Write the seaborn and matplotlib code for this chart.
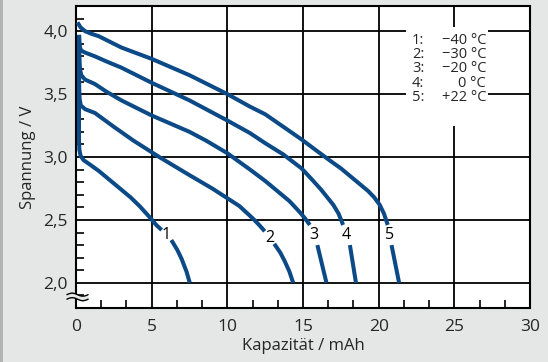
import numpy as np
import pandas as pd
import matplotlib
matplotlib.use("Agg")
import matplotlib.pyplot as plt
from matplotlib.patches import Rectangle
from matplotlib.ticker import MultipleLocator, FixedLocator
import seaborn as sns

# ---------------- data ----------------
nan = np.nan
# curve 1: -40 °C
cap_1 = [0.2, 0.2, 0.22, 0.3, 0.5, 0.92, 1.5, 2.0, 2.9, 3.6, 4.2, 4.88, 5.3, 5.66,
         nan, 6.3, 6.7, 6.98, 7.3, 7.52]
volt_1 = [3.97, 3.13, 3.06, 3.01, 2.975, 2.94, 2.89, 2.84, 2.75, 2.68, 2.61, 2.52, 2.46, 2.42,
          nan, 2.34, 2.26, 2.19, 2.09, 2.0]
# curve 2: -30 °C
cap_2 = [0.2, 0.21, 0.24, 0.32, 0.6, 1.25, 2.5, 3.8, 5.5, 7.3, 9.0, 10.8, 11.7, 12.1, 12.47,
         nan, 13.1, 13.5, 13.8, 14.1, 14.35]
volt_2 = [3.97, 3.55, 3.46, 3.41, 3.38, 3.35, 3.24, 3.13, 3.00, 2.87, 2.75, 2.61, 2.51, 2.46, 2.41,
          nan, 2.31, 2.24, 2.17, 2.09, 2.0]
# curve 3: -20 °C
cap_3 = [0.2, 0.22, 0.26, 0.35, 0.6, 1.25, 2.0, 3.0, 5.0, 7.5, 8.6, 10.0, 11.5, 12.5, 13.3, 14.1,
         14.8, 15.15, 15.45, nan, 15.95, 16.25, 16.55]
volt_3 = [3.97, 3.80, 3.70, 3.65, 3.615, 3.58, 3.52, 3.45, 3.33, 3.20, 3.13, 3.03, 2.90, 2.81, 2.73, 2.65,
          2.56, 2.51, 2.46, nan, 2.30, 2.15, 2.0]
# curve 4: 0 °C
cap_4 = [0.2, 0.22, 0.26, 0.35, 0.6, 1.25, 2.0, 3.0, 5.0, 7.5, 10.0, 11.5, 12.5, 13.7, 14.9,
         15.6, 16.2, 16.6, 17.0, 17.35, 17.65, nan, 18.1, 18.3, 18.5]
volt_4 = [3.97, 3.92, 3.87, 3.845, 3.83, 3.80, 3.76, 3.71, 3.59, 3.45, 3.29, 3.19, 3.11, 3.02, 2.91,
          2.82, 2.74, 2.68, 2.62, 2.55, 2.46, nan, 2.30, 2.15, 2.0]
# curve 5: +22 °C
cap_5 = [0.1, 0.3, 0.6, 1.0, 1.5, 2.0, 3.0, 5.0, 7.5, 10.0, 11.5, 12.5, 13.7, 14.9, 15.9, 16.8,
         17.5, 18.2, 18.8, 19.3, 19.7, 20.07, 20.35, 20.6, nan, 20.85, 21.1, 21.35]
volt_5 = [4.07, 4.03, 4.00, 3.98, 3.96, 3.93, 3.87, 3.78, 3.65, 3.50, 3.40, 3.34, 3.24, 3.14, 3.05, 2.97,
          2.91, 2.84, 2.78, 2.73, 2.68, 2.62, 2.55, 2.46, nan, 2.30, 2.15, 2.0]

curve_ids = ["1", "2", "3", "4", "5"]
curve_caps = [cap_1, cap_2, cap_3, cap_4, cap_5]
curve_volts = [volt_1, volt_2, volt_3, volt_4, volt_5]
temps = ["\u221240 °C", "\u221230 °C", "\u221220 °C", "0 °C", "+22 °C"]

x_ticks = [0, 5, 10, 15, 20, 25, 30]
y_ticks = [2.0, 2.5, 3.0, 3.5, 4.0]
y_ticklabels = ["2,0", "2,5", "3,0", "3,5", "4,0"]

# ---------------- style ----------------
BG = "#e5e6e6"
BLUE = "#0b4a87"
sns.set_style("white", {"xtick.bottom": True, "ytick.left": True})
plt.rcParams["font.family"] = ["Open Sans", "DejaVu Sans"]

fig = plt.figure(figsize=(5.48, 3.62), dpi=100, facecolor=BG)
fig.patches.append(Rectangle((0, 0), 3 / 548, 1, transform=fig.transFigure,
                             facecolor="#b3b3b3", edgecolor="none", zorder=0))
ax = fig.add_axes([76 / 548, 1 - 308 / 362, (530 - 76) / 548, (308 - 6) / 362])
ax.set_facecolor("white")

for cid, cx, cy in zip(curve_ids, curve_caps, curve_volts):
    df = pd.DataFrame({"x": cx, "y": cy})
    df["seg"] = df["x"].isna().cumsum()
    df = df.dropna()
    segs = [g for _, g in df.groupby("seg")]
    for g in segs:
        sns.lineplot(data=g, x="x", y="y", sort=False, estimator=None,
                     color=BLUE, lw=2.9, ax=ax, zorder=4,
                     solid_capstyle="butt", solid_joinstyle="round")
    up, lo = segs[0], segs[-1]
    lx = (up["x"].iloc[-1] + lo["x"].iloc[0]) / 2
    ly = (up["y"].iloc[-1] + lo["y"].iloc[0]) / 2
    ax.text(lx, ly, cid, ha="center", va="center", fontsize=11.5, color="black", zorder=5)

ax.set_xlim(0, 30)
ax.set_ylim(1.8, 4.2)
ax.xaxis.set_major_locator(FixedLocator(x_ticks))
ax.xaxis.set_minor_locator(MultipleLocator(5 / 3))
ax.yaxis.set_major_locator(FixedLocator(y_ticks))
ax.set_yticklabels(y_ticklabels)
ax.yaxis.set_minor_locator(MultipleLocator(0.1))
ax.grid(True, which="major", color="black", lw=1.3, zorder=1)
ax.set_axisbelow(True)
ax.tick_params(which="major", length=0, labelsize=12.5, pad=8)
ax.tick_params(axis="y", which="major", pad=6)
ax.tick_params(which="minor", direction="in", length=5.5, width=1.2, color="black",
               bottom=True, left=True, top=False, right=False)
for s in ax.spines.values():
    s.set_color("black")
    s.set_linewidth(1.5)
    s.set_zorder(3)

ax.set_xlabel("Kapazität / mAh", fontsize=12, labelpad=2)
ax.set_ylabel("Spannung / V", fontsize=12, labelpad=5)

# legend block
ax.add_patch(Rectangle((21.8, 3.25), 5.4, 0.78, facecolor="white",
                       edgecolor="none", zorder=2))
for i, (cid, t) in enumerate(zip(curve_ids, temps)):
    yy = 3.928 - i * 0.1136
    ax.text(22.2, yy, cid + ":", ha="left", va="center", fontsize=10.5, zorder=3)
    ax.text(27.1, yy, t, ha="right", va="center", fontsize=10.5, zorder=3)

# axis break symbol
bx = np.linspace(-0.6, 0.8, 50)
wave = 0.012 * np.sin((bx + 0.6) / 1.4 * 2 * np.pi)
ax.fill_between(bx, 1.906 + wave, 1.87 + wave, color=BG, clip_on=False, zorder=6, lw=0)
ax.plot(bx, 1.906 + wave, color="black", lw=1.0, clip_on=False, zorder=7)
ax.plot(bx, 1.87 + wave, color="black", lw=1.0, clip_on=False, zorder=7)

fig.savefig("out.png", dpi=100, facecolor=BG)
